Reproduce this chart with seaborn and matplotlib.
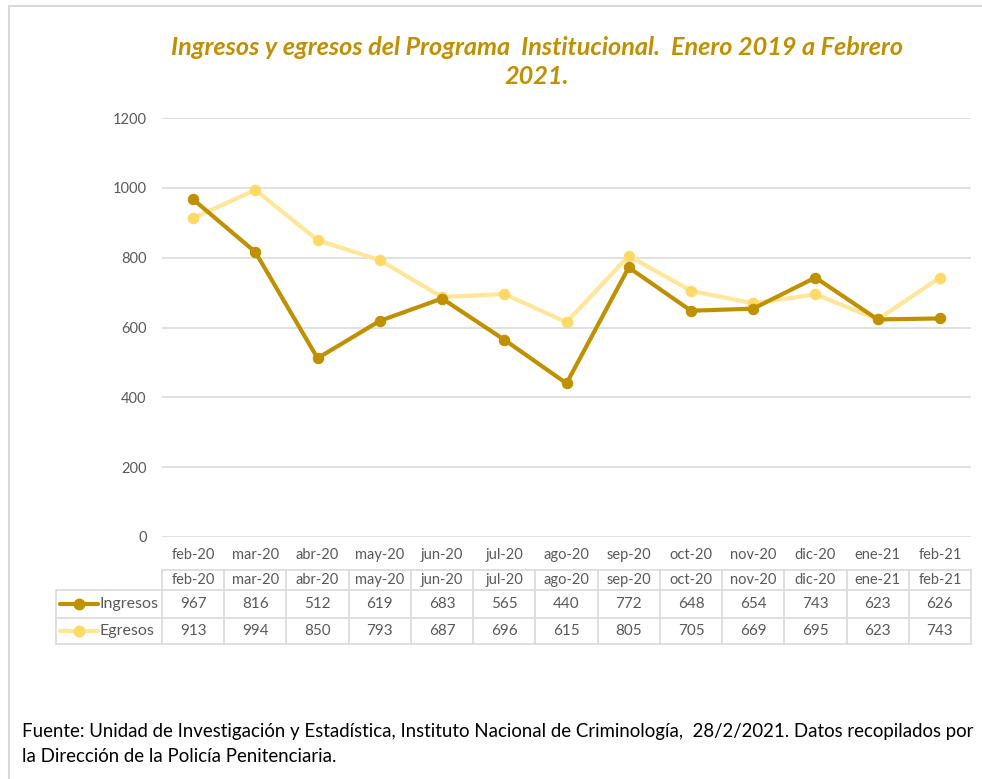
import pandas as pd
import matplotlib.pyplot as plt
import seaborn as sns
from matplotlib.lines import Line2D
from matplotlib.transforms import blended_transform_factory

# --- DATA ---
months = ["feb-20", "mar-20", "abr-20", "may-20", "jun-20", "jul-20", "ago-20",
          "sep-20", "oct-20", "nov-20", "dic-20", "ene-21", "feb-21"]
ingresos = [967, 816, 512, 619, 683, 565, 440, 772, 648, 654, 743, 623, 626]
egresos = [913, 994, 850, 793, 687, 696, 615, 805, 705, 669, 695, 623, 743]
series_names = ["Ingresos", "Egresos"]
y_ticks = [0, 200, 400, 600, 800, 1000, 1200]

TITLE = "Ingresos y egresos del Programa  Institucional.  Enero 2019 a Febrero\n2021."
FOOTER_1 = ("Fuente: Unidad de Investigación y Estadística, Instituto Nacional de Criminología,"
            "  28/2/2021. Datos recopilados por")
FOOTER_2 = "la Dirección de la Policía Penitenciaria."

# --- STYLE ---
GOLD = "#BF9000"
LIGHT_LINE = "#FFE699"
LIGHT_MARK = "#FFD966"
GRID = "#D9D9D9"
TXT = "#595959"
W, H = 982, 779

sns.set_style("white")
plt.rcParams["font.family"] = ["Lato", "DejaVu Sans"]

df = pd.DataFrame({"x": range(len(months)), "Ingresos": ingresos, "Egresos": egresos})

fig = plt.figure(figsize=(W / 100, H / 100), dpi=100)
ax = fig.add_axes([162 / W, 1 - 537 / H, (971 - 162) / W, 419 / H])

sns.lineplot(data=df, x="x", y="Egresos", ax=ax, color=LIGHT_LINE, lw=3,
             marker="o", markersize=7.5, markerfacecolor=LIGHT_MARK,
             markeredgecolor=LIGHT_MARK, zorder=3)
sns.lineplot(data=df, x="x", y="Ingresos", ax=ax, color=GOLD, lw=3,
             marker="o", markersize=7.5, markerfacecolor=GOLD,
             markeredgecolor=GOLD, zorder=4)

ax.set_xlim(-0.5, len(months) - 0.5)
ax.set_ylim(0, 1200)
ax.set_yticks(y_ticks)
ax.set_xticks(range(len(months)))
ax.set_xticklabels(months)
ax.set_xlabel("")
ax.set_ylabel("")
ax.tick_params(axis="y", length=0, pad=11, labelsize=10.5, labelcolor=TXT)
ax.tick_params(axis="x", length=0, pad=8, labelsize=10.5, labelcolor=TXT)
ax.grid(axis="y", color=GRID, lw=1.1)
ax.set_axisbelow(True)
for s in ax.spines.values():
    s.set_visible(False)

# --- DATA TABLE under the axis ---
tr = blended_transform_factory(ax.transData, ax.transAxes)
y_hdr_top, y_hdr_bot, y_r1_bot, y_r2_bot = -0.0788, -0.1265, -0.1933, -0.2554
x_lab = -2.2
n = len(months)

def tline(xs, ys):
    ax.add_line(Line2D(xs, ys, transform=tr, color=GRID, lw=1.2, clip_on=False))

tline([-0.5, n - 0.5], [y_hdr_top, y_hdr_top])
for yy in (y_hdr_bot, y_r1_bot, y_r2_bot):
    tline([x_lab, n - 0.5], [yy, yy])
tline([x_lab, x_lab], [y_hdr_bot, y_r2_bot])
for i in range(n + 1):
    tline([i - 0.5, i - 0.5], [y_hdr_top, y_r2_bot])

row_mid = [(y_hdr_bot + y_r1_bot) / 2, (y_r1_bot + y_r2_bot) / 2]
for i, m in enumerate(months):
    ax.text(i, (y_hdr_top + y_hdr_bot) / 2, m, transform=tr, ha="center", va="center",
            fontsize=10.5, color=TXT)
    ax.text(i, row_mid[0], str(ingresos[i]), transform=tr, ha="center", va="center",
            fontsize=11, color=TXT)
    ax.text(i, row_mid[1], str(egresos[i]), transform=tr, ha="center", va="center",
            fontsize=11, color=TXT)

for name, ym, lc, mc in [(series_names[0], row_mid[0], GOLD, GOLD),
                         (series_names[1], row_mid[1], LIGHT_LINE, LIGHT_MARK)]:
    ax.add_line(Line2D([-2.14, -1.53], [ym, ym], transform=tr, color=lc, lw=3, clip_on=False))
    ax.add_line(Line2D([-1.83], [ym], transform=tr, marker="o", markersize=7.5,
                       color=mc, clip_on=False))
    ax.text(-1.5, ym, name, transform=tr, ha="left", va="center", fontsize=11.5, color=TXT)

# --- TITLE / FOOTER / BORDER ---
fig.text(537 / W, 1 - 62 / H, TITLE, ha="center", va="center", fontsize=18.2,
         fontweight="bold", fontstyle="italic", color=GOLD, linespacing=1.32)
fig.text(22 / W, 1 - 732 / H, FOOTER_1, ha="left", va="center", fontsize=13.4, color="black")
fig.text(22 / W, 1 - 757 / H, FOOTER_2, ha="left", va="center", fontsize=13.4, color="black")

fig.add_artist(Line2D([9 / W, 1], [1 - 6 / H, 1 - 6 / H], transform=fig.transFigure,
                      color=GRID, lw=1.5))
fig.add_artist(Line2D([9 / W, 9 / W], [0, 1 - 6 / H], transform=fig.transFigure,
                      color=GRID, lw=1.5))

fig.savefig("out.png", dpi=100)
